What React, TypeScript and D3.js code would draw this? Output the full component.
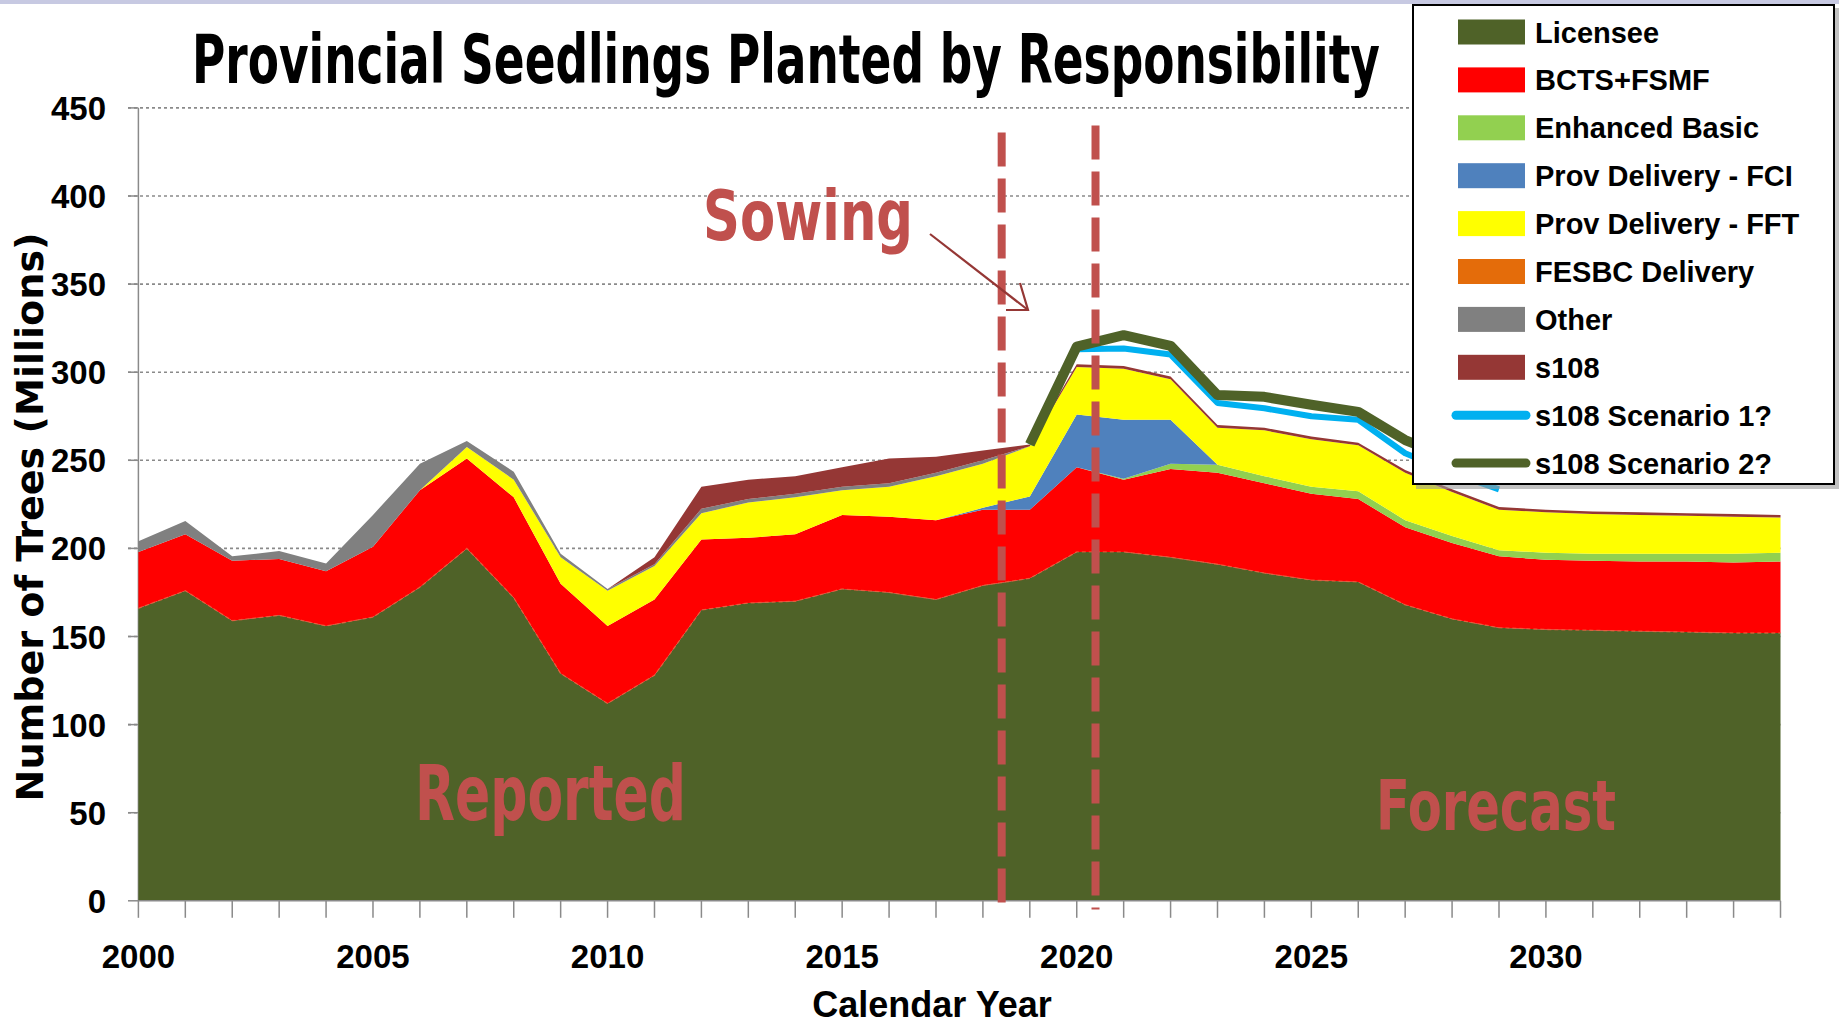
import * as d3 from "d3";

const W = 1839;
const H = 1028;

const years = d3.range(2000, 2036);
const licensee = [166, 176, 159, 162, 156, 161, 178, 200, 172, 129, 112, 128, 165, 169, 170, 177, 175, 171, 179, 183, 198, 198, 195, 191, 186, 182, 181, 168, 160, 155, 154, 153.5, 153, 152.5, 152, 152];
const bcts = [32, 32, 34, 32, 31, 40, 55, 51, 57, 51, 44, 43, 40, 37, 38, 42, 43, 45, 43, 39, 48, 41, 50, 52, 51, 49, 47, 44, 43, 40.5, 39.5, 39.5, 39.5, 40, 40, 40.5];
const enhancedBasic = [0, 0, 0, 0, 0, 0, 0, 0, 0, 0, 0, 0, 0, 0, 0, 0, 0, 0, 0, 0, 0, 0.5, 3, 4.5, 4, 4, 4.5, 4, 4, 3.5, 4, 4, 4.5, 4.5, 5, 5];
const provFci = [0, 0, 0, 0, 0, 0, 0, 0, 0, 0, 0, 0, 0, 0, 0, 0, 0, 0, 1, 7.5, 30, 33.5, 25, 0, 0, 0, 0, 0, 0, 0, 0, 0, 0, 0, 0, 0];
const provFft = [0, 0, 0, 0, 0, 0, 0, 6.5, 10, 15, 20, 19, 15, 20, 21, 14, 17, 25, 25, 28.5, 27, 29, 23, 21, 26, 27, 26, 27, 25, 23, 23, 22.5, 22, 21.5, 21, 20];
const fesbc = [0, 0, 0, 0, 0, 0, 0, 0, 0, 0, 0, 0, 0, 0, 0, 0, 0, 0, 0, 0, 0, 0, 0, 0, 0, 0, 0, 0, 0, 0, 0, 0, 0, 0, 0, 0];
const other = [6, 7.5, 2.5, 4.5, 4.5, 18, 15, 3.5, 4.5, 2, 1, 1, 2.5, 2, 2, 2, 2, 2, 2, 0, 0, 0, 0, 0, 0, 0, 0, 0, 0, 0, 0, 0, 0, 0, 0, 0];
const s108 = [0, 0, 0, 0, 0, 0, 0, 0, 0, 0, 0, 4, 12.5, 11, 10, 11, 14, 9, 5.5, 1, 1.5, 1.5, 1.5, 1.5, 1.5, 1.5, 1.5, 1.5, 1.5, 1.5, 1.5, 1.5, 1.5, 1.5, 1.5, 1.5];

const scenarioYears = d3.range(2019, 2030);
const scenario1 = [259, 313, 313.5, 310, 282.5, 279.5, 275, 273, 254, 243, 233.5];
const scenario2 = [259, 314.5, 321, 315, 287, 286, 281.5, 277.5, 261.5, 251, 243];

const yTicks = [0, 50, 100, 150, 200, 250, 300, 350, 400, 450];
const xLabelYears = [2000, 2005, 2010, 2015, 2020, 2025, 2030];

// dashed red markers: year and top value
const markerYears = [2018.4, 2020.4];
const markerTops = [436, 440];

const SERIES = [
  { key: "Licensee", color: "#4F6228", values: licensee },
  { key: "BCTS+FSMF", color: "#FF0000", values: bcts },
  { key: "Enhanced Basic", color: "#92D050", values: enhancedBasic },
  { key: "Prov Delivery - FCI", color: "#4F81BD", values: provFci },
  { key: "Prov Delivery - FFT", color: "#FFFF00", values: provFft },
  { key: "FESBC Delivery", color: "#E46C0A", values: fesbc },
  { key: "Other", color: "#808080", values: other },
  { key: "s108", color: "#953735", values: s108 },
];
const LINES = [
  { key: "s108 Scenario 1?", color: "#00B0F0", values: scenario1, width: 6 },
  { key: "s108 Scenario 2?", color: "#4F6228", values: scenario2, width: 10 },
];

const NARROW = "'Liberation Sans Narrow', 'Arial Narrow', 'DejaVu Sans Condensed', sans-serif";
const SANS = "'Liberation Sans', Arial, sans-serif";
const ANNOT = "#C0504D";

export default function App() {
  const x = d3.scaleLinear().domain([2000, 2035]).range([138.4, 1780.5]);
  const y = d3.scaleLinear().domain([0, 450]).range([900.8, 107.9]);

  const table = years.map((yr, i) => {
    const row: Record<string, number> = { year: yr };
    SERIES.forEach((s) => (row[s.key] = s.values[i]));
    return row;
  });
  const stacked = d3.stack<Record<string, number>>().keys(SERIES.map((s) => s.key))(table);

  const area = d3
    .area<d3.SeriesPoint<Record<string, number>>>()
    .x((d) => x(d.data.year))
    .y0((d) => y(d[0]))
    .y1((d) => y(d[1]));

  const line = d3
    .line<[number, number]>()
    .x((d) => x(d[0]))
    .y((d) => y(d[1]))
    .curve(d3.curveLinear);

  const licTop = d3
    .line<number>()
    .x((_, i) => x(years[i]))
    .y((d) => y(d))(licensee);

  const legendX = 1413;
  const legendY = 5;
  const rowY = (i: number) => 32 + i * 47.9;

  return (
    <svg width={W} height={H} style={{ position: "absolute", left: 0, top: 0, display: "block", background: "#fff" }}>
      <rect x={0} y={0} width={W} height={H} fill="#fff" />
      <rect x={0} y={0} width={W} height={4} fill="#c7c9e2" />

      {/* title */}
      <text x={192} y={83} fontFamily={NARROW} fontWeight="bold" fontSize={68} textLength={1188} lengthAdjust="spacingAndGlyphs" fill="#000">
        Provincial Seedlings Planted by Responsibility
      </text>

      {/* grid */}
      {yTicks.filter((t) => t > 0).map((t) => (
        <line key={t} x1={128} x2={x(2035)} y1={y(t)} y2={y(t)} stroke="#8a8a8a" strokeWidth={1.6} strokeDasharray="3,3" />
      ))}
      <line x1={x(2000)} x2={x(2000)} y1={y(450)} y2={y(0)} stroke="#8a8a8a" strokeWidth={1.5} />
      {yTicks.map((t) => (
        <g key={t}>
          <line x1={128} x2={x(2000)} y1={y(t)} y2={y(t)} stroke="#8a8a8a" strokeWidth={1.5} />
          <text x={106} y={y(t) + 12} textAnchor="end" fontFamily={SANS} fontWeight="bold" fontSize={33} fill="#000">
            {t}
          </text>
        </g>
      ))}

      {/* stacked areas */}
      {stacked.map((s, i) => (
        <path key={s.key} d={area(s) || ""} fill={SERIES[i].color} />
      ))}
      <path d={licTop || ""} fill="none" stroke="#e8603c" strokeWidth={1.3} strokeDasharray="4,3" opacity={0.8} />

      {/* x axis */}
      <line x1={x(2000)} x2={x(2035)} y1={y(0)} y2={y(0)} stroke="#8a8a8a" strokeWidth={1.5} />
      {years.map((yr) => (
        <line key={yr} x1={x(yr)} x2={x(yr)} y1={y(0)} y2={y(0) + 17} stroke="#8a8a8a" strokeWidth={1.5} />
      ))}
      {xLabelYears.map((yr) => (
        <text key={yr} x={x(yr)} y={968} textAnchor="middle" fontFamily={SANS} fontWeight="bold" fontSize={33} fill="#000">
          {yr}
        </text>
      ))}

      {/* scenario lines */}
      {LINES.map((l) => (
        <path
          key={l.key}
          d={line(scenarioYears.map((yr, i) => [yr, l.values[i]] as [number, number])) || ""}
          fill="none"
          stroke={l.color}
          strokeWidth={l.width}
          strokeLinejoin="round"
        />
      ))}

      {/* dashed markers */}
      {markerYears.map((m, i) => (
        <line key={m} x1={x(m)} x2={x(m)} y1={y(markerTops[i])} y2={y(-5)} stroke={ANNOT} strokeWidth={8} strokeDasharray="34,12" />
      ))}

      {/* annotations */}
      <text x={703} y={240} fontFamily={NARROW} fontWeight="bold" fontSize={70} textLength={210} lengthAdjust="spacingAndGlyphs" fill={ANNOT}>
        Sowing
      </text>
      <g stroke="#953735" strokeWidth={2.2} fill="none">
        <line x1={930} y1={234} x2={1028} y2={310} />
        <polyline points="1020,283 1028,310 1006,310" />
      </g>
      <text x={415} y={820} fontFamily={NARROW} fontWeight="bold" fontSize={77} textLength={271} lengthAdjust="spacingAndGlyphs" fill={ANNOT}>
        Reported
      </text>
      <text x={1376} y={830} fontFamily={NARROW} fontWeight="bold" fontSize={70} textLength={240} lengthAdjust="spacingAndGlyphs" fill={ANNOT}>
        Forecast
      </text>

      {/* axis titles */}
      <text x={932} y={1017} textAnchor="middle" fontFamily={SANS} fontWeight="bold" fontSize={36} fill="#000">
        Calendar Year
      </text>
      <text
        transform="translate(43,517) rotate(-90)"
        textAnchor="middle"
        fontFamily="'DejaVu Sans', Verdana, sans-serif"
        fontWeight="bold"
        fontSize={37}
        textLength={569}
        lengthAdjust="spacingAndGlyphs"
        fill="#000"
      >
        Number of Trees (Millions)
      </text>

      {/* legend */}
      <rect x={legendX + 3} y={legendY + 3} width={423} height={481} fill="#9a9a9a" opacity={0.6} />
      <rect x={legendX} y={legendY} width={421} height={479} fill="#fff" stroke="#000" strokeWidth={2} />
      {SERIES.map((s, i) => (
        <g key={s.key}>
          <rect x={1458} y={rowY(i) - 12.5} width={67} height={25} fill={s.color} />
          <text x={1535} y={rowY(i) + 10.5} fontFamily={SANS} fontWeight="bold" fontSize={29} fill="#000">
            {s.key}
          </text>
        </g>
      ))}
      {LINES.map((l, j) => {
        const i = SERIES.length + j;
        return (
          <g key={l.key}>
            <line x1={1456} x2={1526} y1={rowY(i)} y2={rowY(i)} stroke={l.color} strokeWidth={9} strokeLinecap="round" />
            <text x={1535} y={rowY(i) + 10.5} fontFamily={SANS} fontWeight="bold" fontSize={29} fill="#000">
              {l.key}
            </text>
          </g>
        );
      })}
    </svg>
  );
}
